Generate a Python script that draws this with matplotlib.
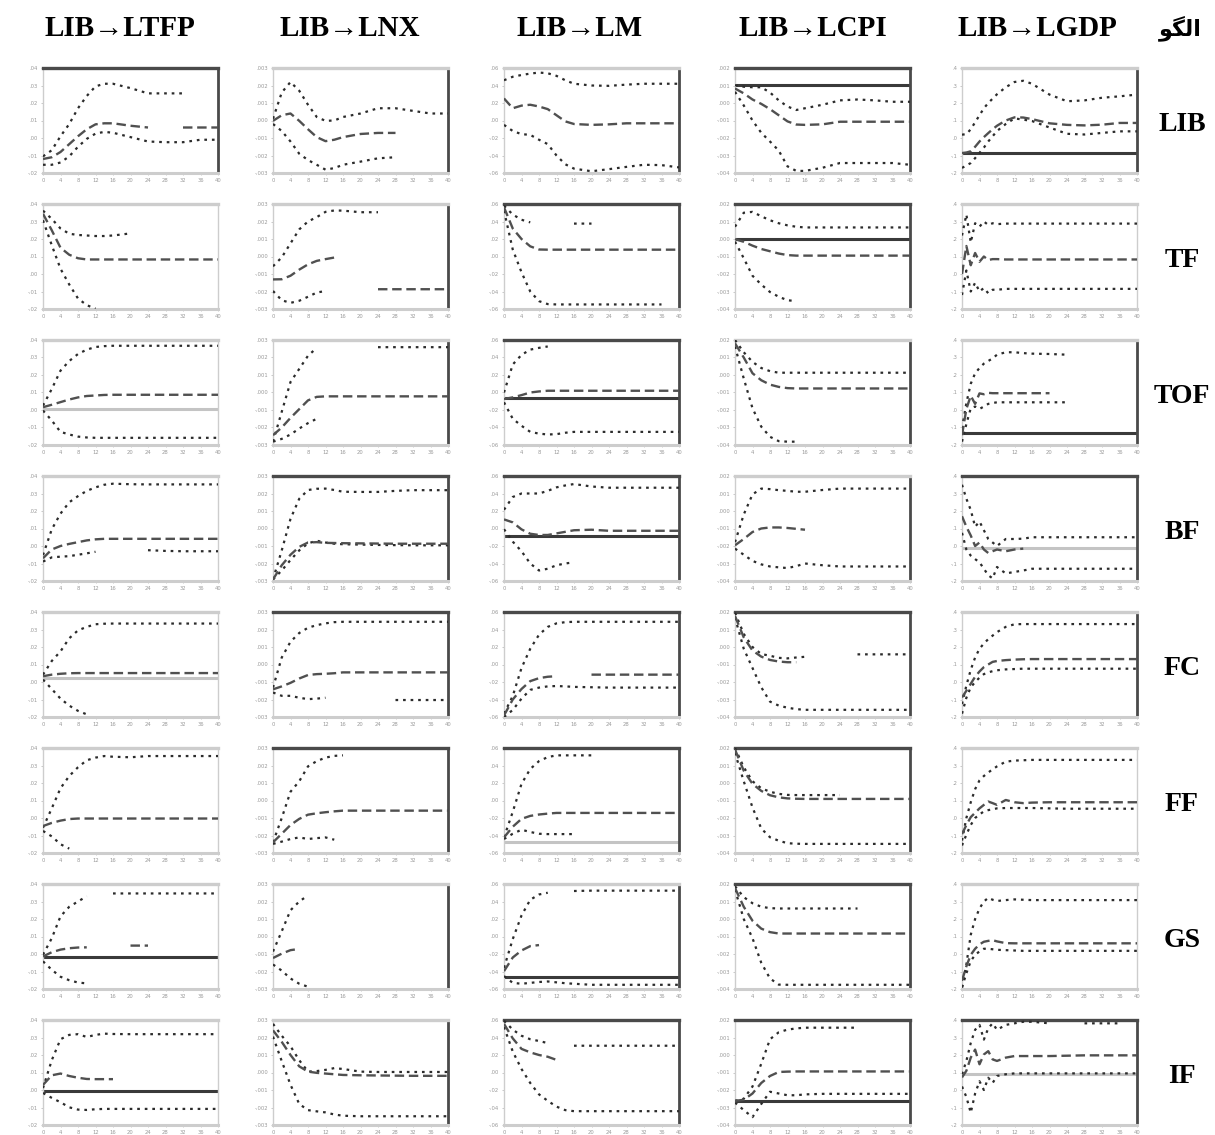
import numpy as np
import matplotlib
matplotlib.use("Agg")
import matplotlib.pyplot as plt

nan = np.nan

rows = ["LIB", "TF", "TOF", "BF", "FC", "FF", "GS", "IF"]
cols = ["LIB→LTFP", "LIB→LNX", "LIB→LM", "LIB→LCPI", "LIB→LGDP"]
corner = "\uFEEE\uFB95\uFEDF\uFE8D"  # الگو (shaped, visual order)

h_smooth = [0, 2, 4, 6, 8, 10, 12, 14, 16, 20, 24, 28, 32, 36, 40]
h_osc = [0, 1, 2, 3, 4, 5, 6, 7, 8, 10, 12, 14, 16, 20, 24, 28, 32, 36, 40]
xticks = [0, 4, 8, 12, 16, 20, 24, 28, 32, 36, 40]
ytick_labels = [
    ["-.02", "-.01", ".00", ".01", ".02", ".03", ".04"],
    ["-.003", "-.002", "-.001", ".000", ".001", ".002", ".003"],
    ["-.06", "-.04", "-.02", ".00", ".02", ".04", ".06"],
    ["-.004", "-.003", "-.002", "-.001", ".000", ".001", ".002"],
    ["-.2", "-.1", ".0", ".1", ".2", ".3", ".4"],
]

# ---------------- LIB ----------------
up_LIB = [
    [0.95, 1.3, 2.1, 2.8, 3.7, 4.4, 4.95, 5.1, 5.1, 4.85, 4.55, 4.55, 4.55, nan, nan],
    [3.1, 4.6, 5.2, 4.7, 3.9, 3.2, 2.98, 3.0, 3.2, 3.4, 3.7, 3.7, 3.55, 3.4, 3.4],
    [5.3, 5.5, 5.6, 5.68, 5.74, 5.7, 5.55, 5.3, 5.1, 5.0, 4.98, 5.05, 5.1, 5.1, 5.1],
    [5.02, 4.93, 4.9, 4.9, 4.6, 4.15, 3.8, 3.6, 3.7, 3.9, 4.15, 4.2, 4.15, 4.07, 4.07],
    [2.19, 2.22, 2.5, 2.9, 3.3, 3.7, 4.0, 4.25, 4.5, 4.9, 5.2, 5.27, 5.1, 4.48, 4.1, 4.15, 4.3, 4.38, 4.48],
]
ce_LIB = [
    [0.8, 0.9, 1.2, 1.65, 2.1, 2.5, 2.78, 2.84, 2.84, 2.7, 2.6, nan, 2.6, 2.6, 2.6],
    [2.98, 3.3, 3.4, 2.98, 2.5, 2.05, 1.82, 1.9, 2.05, 2.23, 2.29, 2.29, nan, nan, nan],
    [4.26, 3.7, 3.85, 3.9, 3.8, 3.65, 3.3, 2.95, 2.8, 2.75, 2.78, 2.84, 2.84, 2.84, 2.84],
    [4.83, 4.55, 4.2, 3.95, 3.65, 3.3, 2.95, 2.77, 2.75, 2.78, 2.93, 2.93, 2.93, 2.93, 2.93],
    [1.14, 1.17, 1.24, 1.5, 1.8, 2.05, 2.28, 2.5, 2.7, 3.0, 3.18, 3.17, 3.08, 2.84, 2.75, 2.72, 2.76, 2.86, 2.86],
]
lo_LIB = [
    [0.47, 0.47, 0.6, 0.95, 1.5, 1.95, 2.25, 2.35, 2.3, 2.05, 1.8, 1.76, 1.76, 1.9, 1.9],
    [2.8, 2.4, 1.8, 1.1, 0.74, 0.47, 0.19, 0.28, 0.47, 0.65, 0.84, 0.9, nan, nan, nan],
    [2.75, 2.4, 2.22, 2.18, 1.9, 1.65, 1.0, 0.5, 0.25, 0.1, 0.22, 0.35, 0.47, 0.45, 0.32],
    [4.64, 3.86, 3.0, 2.3, 1.8, 1.28, 0.38, 0.12, 0.12, 0.3, 0.57, 0.57, 0.57, 0.57, 0.47],
    [0.29, 0.43, 0.57, 0.85, 1.15, 1.45, 1.8, 2.1, 2.4, 2.8, 3.12, 3.05, 2.97, 2.6, 2.24, 2.2, 2.29, 2.38, 2.38],
]
zero_LIB = [nan, nan, nan, 5.02, 1.14]
zdark_LIB = [0, 0, 0, 1, 1]

# ---------------- TF ----------------
up_TF = [
    [5.62, 5.15, 4.6, 4.3, 4.23, 4.2, 4.17, 4.17, 4.2, 4.32, nan, nan, nan, nan, nan],
    [2.44, 2.95, 3.75, 4.55, 5.0, 5.25, 5.55, 5.63, 5.62, 5.53, 5.53, nan, nan, nan, nan],
    [5.9, 5.4, 5.1, 4.95, nan, nan, nan, nan, 4.88, 4.88, nan, nan, nan, nan, nan],
    [4.7, 5.5, 5.55, 5.3, 5.07, 4.9, 4.78, 4.7, 4.66, 4.66, 4.66, 4.66, 4.66, 4.66, 4.66],
    [4.2, 5.4, 3.8, 4.9, 4.7, 5.0, 4.8, 4.9, 4.85, 4.88, 4.88, 4.88, 4.88, 4.88, 4.88, 4.88, 4.88, 4.88, 4.88],
]
ce_TF = [
    [5.44, 4.5, 3.5, 3.1, 2.9, 2.83, 2.83, 2.83, 2.83, 2.83, 2.83, 2.83, 2.83, 2.83, 2.83],
    [1.69, 1.7, 1.9, 2.25, 2.55, 2.75, 2.85, 2.94, nan, nan, 1.13, 1.13, 1.13, 1.13, 1.13],
    [5.81, 4.6, 4.0, 3.58, 3.4, 3.39, 3.39, 3.39, 3.39, 3.39, 3.39, 3.39, 3.39, 3.39, 3.39],
    [3.99, 3.84, 3.62, 3.43, 3.3, 3.17, 3.08, 3.05, 3.05, 3.05, 3.05, 3.05, 3.05, 3.05, 3.05],
    [2.0, 3.6, 2.5, 3.2, 2.7, 3.0, 2.8, 2.85, 2.85, 2.83, 2.83, 2.83, 2.83, 2.83, 2.83, 2.83, 2.83, 2.83, 2.83],
]
lo_TF = [
    [5.07, 3.65, 2.3, 1.4, 0.6, 0.22, 0.02, nan, nan, nan, nan, nan, nan, nan, nan],
    [1.03, 0.5, 0.35, 0.47, 0.7, 0.94, 1.03, nan, nan, nan, nan, nan, nan, nan, nan],
    [5.62, 3.4, 2.1, 1.0, 0.45, 0.28, 0.26, 0.26, 0.26, 0.26, 0.26, 0.26, 0.26, 0.26, nan],
    [3.85, 2.9, 1.9, 1.4, 0.97, 0.7, 0.5, 0.45, nan, nan, nan, nan, nan, nan, nan],
    [0.8, 2.2, 1.0, 1.5, 1.0, 1.2, 0.9, 1.1, 1.1, 1.15, 1.15, 1.15, 1.15, 1.15, 1.15, 1.15, 1.15, 1.15, 1.15],
]
zero_TF = [nan, nan, nan, 3.99, nan]
zdark_TF = [0, 0, 0, 1, 0]

# ---------------- TOF ----------------
up_TOF = [
    [2.25, 3.2, 4.25, 4.8, 5.2, 5.45, 5.6, 5.65, 5.67, 5.67, 5.67, 5.67, 5.67, 5.67, 5.67],
    [0.19, 1.9, 3.6, 4.35, 5.1, 5.55, nan, nan, nan, nan, 5.59, 5.59, 5.59, 5.59, 5.59],
    [3.0, 4.6, 5.15, 5.45, 5.55, 5.63, nan, nan, nan, nan, nan, nan, nan, nan, nan],
    [6.0, 5.3, 4.75, 4.4, 4.22, 4.13, 4.13, 4.13, 4.13, 4.13, 4.13, 4.13, 4.13, 4.13, 4.13],
    [0.94, 2.4, 3.5, 4.1, 4.4, 4.65, 4.8, 4.95, 5.16, 5.3, 5.3, 5.25, 5.22, 5.2, 5.16, nan, nan, nan, nan],
]
ce_TOF = [
    [2.16, 2.3, 2.45, 2.6, 2.72, 2.8, 2.83, 2.86, 2.87, 2.87, 2.87, 2.87, 2.87, 2.87, 2.87],
    [0.56, 1.0, 1.55, 2.05, 2.55, 2.75, 2.78, 2.78, 2.78, 2.78, 2.78, 2.78, 2.78, 2.78, 2.78],
    [2.63, 2.72, 2.85, 3.0, 3.06, 3.1, 3.1, 3.1, 3.1, 3.1, 3.1, 3.1, 3.1, 3.1, 3.1],
    [5.81, 5.0, 4.1, 3.7, 3.45, 3.32, 3.25, 3.23, 3.23, 3.23, 3.23, 3.23, 3.23, 3.23, 3.23],
    [0.56, 2.06, 2.81, 2.35, 2.95, 2.9, 2.98, 2.96, 2.96, 2.96, 2.96, 2.96, 2.96, 2.96, nan, nan, nan, nan, nan],
]
lo_TOF = [
    [1.97, 1.4, 0.75, 0.6, 0.48, 0.43, 0.41, 0.41, 0.41, 0.41, 0.41, 0.41, 0.41, 0.41, 0.41],
    [0.19, 0.35, 0.6, 0.94, 1.25, 1.5, nan, nan, nan, nan, nan, nan, nan, nan, nan],
    [2.44, 1.5, 1.1, 0.75, 0.65, 0.6, 0.62, 0.7, 0.75, 0.75, 0.75, 0.75, 0.75, 0.75, 0.75],
    [5.63, 3.8, 2.1, 1.05, 0.47, 0.22, 0.19, 0.19, nan, nan, nan, nan, nan, nan, nan],
    [0.19, 1.2, 2.1, 2.2, 2.06, 2.2, 2.35, 2.4, 2.44, 2.44, 2.44, 2.44, 2.44, 2.44, 2.44, nan, nan, nan, nan],
]
zero_TOF = [2.06, nan, 2.66, nan, 0.71]
zdark_TOF = [0, 0, 1, 0, 1]

# ---------------- BF ----------------
up_BF = [
    [1.48, 2.95, 3.85, 4.5, 4.85, 5.15, 5.35, 5.5, 5.56, 5.53, 5.52, 5.52, 5.52, 5.52, 5.52],
    [0.09, 1.75, 3.55, 4.7, 5.2, 5.27, 5.28, 5.2, 5.1, 5.09, 5.09, 5.15, 5.19, 5.19, 5.19],
    [4.07, 4.8, 5.0, 5.0, 5.0, 5.15, 5.35, 5.46, 5.54, 5.4, 5.33, 5.33, 5.33, 5.33, 5.33],
    [2.22, 3.8, 4.95, 5.28, 5.25, 5.19, 5.15, 5.1, 5.1, 5.2, 5.28, 5.28, 5.28, 5.28, 5.28],
    [5.5, 4.7, 4.06, 3.1, 3.4, 2.9, 2.4, 2.2, 2.0, 2.4, 2.4, 2.42, 2.5, 2.5, 2.5, 2.5, 2.5, 2.5, 2.5],
]
ce_BF = [
    [1.3, 1.8, 2.0, 2.12, 2.22, 2.32, 2.38, 2.41, 2.41, 2.41, 2.41, 2.41, 2.41, 2.41, 2.41],
    [0.09, 0.9, 1.5, 1.95, 2.2, 2.22, 2.18, 2.17, 2.16, 2.15, 2.14, 2.13, 2.13, 2.13, 2.13],
    [3.52, 3.35, 2.95, 2.7, 2.63, 2.63, 2.72, 2.81, 2.9, 2.93, 2.87, 2.87, 2.87, 2.87, 2.87],
    [2.04, 2.4, 2.8, 3.0, 3.06, 3.06, 3.03, 2.98, 2.93, nan, nan, nan, nan, nan, nan],
    [3.7, 3.1, 2.6, 2.0, 2.2, 1.8, 1.6, 1.7, 1.8, 1.7, 1.8, 1.85, nan, nan, nan, nan, nan, nan, nan],
]
lo_BF = [
    [1.11, 1.35, 1.39, 1.42, 1.5, 1.58, 1.67, nan, nan, nan, 1.76, 1.72, 1.7, 1.7, 1.7],
    [0.09, 0.6, 1.2, 1.75, 2.15, 2.3, 2.2, 2.13, 2.1, 2.08, 2.06, 2.05, 2.04, 2.04, 2.04],
    [2.96, 2.25, 1.7, 1.0, 0.6, 0.7, 0.9, 1.0, 1.07, nan, nan, nan, nan, nan, nan],
    [1.85, 1.5, 1.15, 0.95, 0.83, 0.78, 0.74, 0.85, 1.0, 0.9, 0.83, 0.83, 0.83, 0.83, 0.83],
    [2.75, 1.8, 1.45, 1.25, 1.07, 0.7, 0.33, 0.15, 0.8, 0.43, 0.52, 0.6, 0.7, 0.7, 0.7, 0.7, 0.7, 0.7, 0.7],
]
zero_BF = [nan, nan, 2.59, nan, 1.91]
zdark_BF = [0, 0, 1, 0, 0]

# ---------------- FC ----------------
up_FC = [
    [2.42, 3.2, 3.75, 4.5, 4.95, 5.15, 5.3, 5.33, 5.34, 5.34, 5.34, 5.34, 5.34, 5.34, 5.34],
    [1.68, 3.4, 4.3, 4.8, 5.1, 5.25, 5.35, 5.42, 5.44, 5.44, 5.44, 5.44, 5.44, 5.44, 5.44],
    [0.19, 1.2, 2.8, 3.9, 4.7, 5.15, 5.35, 5.42, 5.44, 5.44, 5.44, 5.44, 5.44, 5.44, 5.44],
    [5.96, 4.75, 4.0, 3.6, 3.5, 3.38, 3.35, 3.4, 3.44, nan, nan, 3.58, 3.58, 3.58, 3.58],
    [0.74, 1.8, 2.7, 3.4, 3.9, 4.2, 4.45, 4.65, 4.85, 5.15, 5.3, 5.31, 5.31, 5.31, 5.31, 5.31, 5.31, 5.31, 5.31],
]
ce_FC = [
    [2.33, 2.42, 2.47, 2.5, 2.51, 2.51, 2.51, 2.51, 2.51, 2.51, 2.51, 2.51, 2.51, 2.51, 2.51],
    [1.58, 1.75, 1.95, 2.2, 2.4, 2.45, 2.47, 2.5, 2.55, 2.55, 2.55, 2.55, 2.55, 2.55, 2.55],
    [0.09, 1.0, 1.6, 2.05, 2.22, 2.3, 2.33, nan, nan, 2.42, 2.42, 2.42, 2.42, 2.42, 2.42],
    [5.77, 4.55, 3.8, 3.45, 3.26, 3.17, 3.13, 3.13, nan, nan, nan, nan, nan, nan, nan],
    [1.12, 1.5, 1.9, 2.3, 2.6, 2.85, 3.0, 3.15, 3.2, 3.25, 3.28, 3.3, 3.31, 3.31, 3.31, 3.31, 3.31, 3.31, 3.31],
]
lo_FC = [
    [2.14, 1.6, 1.05, 0.65, 0.35, 0.15, nan, nan, nan, nan, nan, nan, nan, nan, nan],
    [1.4, 1.21, 1.21, 1.1, 1.02, 1.05, 1.1, nan, nan, nan, nan, 0.97, 0.97, 0.97, 0.97],
    [0.0, 0.4, 1.05, 1.55, 1.68, 1.75, 1.77, 1.75, 1.72, 1.7, 1.68, 1.68, 1.68, 1.68, 1.68],
    [5.68, 3.9, 2.8, 1.7, 0.88, 0.65, 0.53, 0.45, 0.41, 0.41, 0.41, 0.41, 0.41, 0.41, 0.41],
    [0.19, 1.1, 1.7, 2.0, 2.25, 2.45, 2.55, 2.62, 2.67, 2.72, 2.74, 2.76, 2.76, 2.76, 2.76, 2.76, 2.76, 2.76, 2.76],
]
zero_FC = [2.23, nan, nan, nan, nan]
zdark_FC = [0, 0, 0, 0, 0]

# ---------------- FF ----------------
up_FF = [
    [1.45, 2.55, 3.7, 4.4, 4.9, 5.3, 5.45, 5.54, 5.5, 5.47, 5.54, 5.54, 5.54, 5.54, 5.54],
    [0.61, 2.0, 3.5, 4.1, 4.95, 5.25, 5.45, 5.55, 5.58, nan, nan, nan, nan, nan, nan],
    [0.89, 2.35, 3.95, 4.8, 5.25, 5.48, 5.58, 5.58, 5.58, 5.58, nan, nan, nan, nan, nan],
    [6.0, 4.9, 4.1, 3.7, 3.5, 3.38, 3.32, 3.31, 3.31, 3.31, 3.31, nan, nan, nan, nan],
    [0.71, 2.0, 2.9, 3.65, 4.15, 4.4, 4.6, 4.78, 4.95, 5.22, 5.28, 5.3, 5.32, 5.32, 5.32, 5.32, 5.32, 5.32, 5.32],
]
ce_FF = [
    [1.54, 1.72, 1.85, 1.94, 1.97, 1.97, 1.97, 1.97, 1.97, 1.97, 1.97, 1.97, 1.97, 1.97, 1.97],
    [0.61, 1.1, 1.6, 1.95, 2.19, 2.27, 2.33, 2.38, 2.42, 2.42, 2.42, 2.42, 2.42, 2.42, 2.42],
    [0.89, 1.5, 1.95, 2.12, 2.2, 2.25, 2.29, 2.29, 2.29, 2.29, 2.29, 2.29, 2.29, 2.29, 2.29],
    [5.91, 4.7, 3.95, 3.55, 3.3, 3.18, 3.12, 3.1, 3.09, 3.09, 3.09, 3.09, 3.09, 3.09, 3.09],
    [1.08, 1.6, 2.05, 2.3, 2.55, 2.75, 2.94, 2.85, 2.75, 3.03, 2.9, 2.85, 2.88, 2.9, 2.9, 2.9, 2.9, 2.9, 2.9],
]
lo_FF = [
    [1.26, 0.95, 0.5, 0.25, nan, nan, nan, nan, nan, nan, nan, nan, nan, nan, nan],
    [0.52, 0.65, 0.8, 0.89, 0.8, 0.85, 0.89, 0.76, nan, nan, nan, nan, nan, nan, nan],
    [0.8, 1.1, 1.33, 1.2, 1.1, 1.08, 1.08, 1.08, 1.08, nan, nan, nan, nan, nan, nan],
    [5.72, 4.1, 2.6, 1.4, 0.9, 0.7, 0.56, 0.53, 0.52, 0.52, 0.52, 0.52, 0.52, 0.52, 0.52],
    [0.43, 1.05, 1.6, 2.0, 2.2, 2.38, 2.45, 2.5, 2.55, 2.57, 2.57, 2.57, 2.57, 2.55, 2.53, 2.53, 2.53, 2.53, 2.53],
]
zero_FF = [nan, nan, 0.61, nan, nan]
zdark_FF = [0, 0, 0, 0, 0]

# ---------------- GS ----------------
up_GS = [
    [1.96, 2.9, 4.15, 4.7, 5.0, 5.3, nan, nan, 5.46, 5.46, 5.46, 5.46, 5.46, 5.46, 5.46],
    [2.14, 3.3, 4.5, 5.0, 5.35, nan, nan, nan, nan, nan, nan, nan, nan, nan, nan],
    [1.21, 2.85, 4.2, 5.1, 5.4, 5.5, nan, nan, 5.6, 5.62, 5.62, 5.62, 5.62, 5.62, 5.62],
    [5.87, 5.25, 4.9, 4.7, 4.62, 4.6, 4.6, 4.6, 4.6, 4.6, 4.6, 4.6, nan, nan, nan],
    [0.09, 1.4, 3.1, 4.0, 4.6, 5.0, 5.21, 5.1, 5.03, 5.08, 5.12, 5.1, 5.08, 5.08, 5.08, 5.08, 5.08, 5.08, 5.08],
]
ce_GS = [
    [1.86, 2.1, 2.25, 2.33, 2.37, 2.38, nan, nan, nan, 2.48, 2.48, nan, nan, nan, nan],
    [1.77, 2.02, 2.22, 2.29, nan, nan, nan, nan, nan, nan, nan, nan, nan, nan, nan],
    [1.02, 1.8, 2.2, 2.45, 2.51, nan, nan, nan, nan, nan, nan, nan, nan, nan, nan],
    [5.77, 4.7, 3.9, 3.45, 3.25, 3.17, 3.17, 3.17, 3.17, 3.17, 3.17, 3.17, 3.17, 3.17, 3.17],
    [0.47, 1.3, 1.95, 2.3, 2.55, 2.7, 2.75, 2.79, 2.72, 2.62, 2.61, 2.61, 2.61, 2.61, 2.61, 2.61, 2.61, 2.61, 2.61],
]
lo_GS = [
    [1.58, 1.1, 0.7, 0.5, 0.37, 0.32, nan, nan, nan, nan, nan, nan, nan, nan, nan],
    [1.4, 1.05, 0.6, 0.3, 0.13, nan, nan, nan, nan, nan, nan, nan, nan, nan, nan],
    [0.74, 0.35, 0.3, 0.35, 0.4, 0.43, 0.38, 0.33, 0.3, 0.24, 0.24, 0.24, 0.24, 0.24, 0.24],
    [5.68, 4.0, 2.9, 1.5, 0.6, 0.25, 0.24, 0.24, 0.24, 0.24, 0.24, 0.24, 0.24, 0.24, 0.24],
    [0.09, 0.9, 1.6, 1.95, 2.15, 2.3, 2.3, 2.27, 2.24, 2.22, 2.2, 2.18, 2.18, 2.18, 2.18, 2.18, 2.18, 2.18, 2.18],
]
zero_GS = [1.81, nan, 0.69, nan, nan]
zdark_GS = [1, 0, 1, 0, 0]

# ---------------- IF ----------------
up_IF = [
    [2.11, 3.7, 4.9, 5.15, 5.19, 5.03, 5.15, 5.22, 5.2, 5.19, 5.19, 5.19, 5.19, 5.19, 5.19],
    [5.78, 5.1, 4.5, 3.7, 3.05, 3.08, 3.15, 3.25, 3.2, 3.05, 3.03, 3.03, 3.03, 3.03, 3.03],
    [5.96, 5.45, 5.1, 4.9, 4.8, 4.68, nan, nan, 4.53, 4.53, 4.53, 4.53, 4.53, 4.53, 4.53],
    [1.38, 1.5, 2.2, 3.5, 4.9, 5.3, 5.45, 5.52, 5.56, 5.56, 5.56, 5.56, nan, nan, nan],
    [2.9, 3.66, 4.69, 5.44, 5.72, 4.88, 5.53, 5.81, 5.44, 5.72, 5.81, 5.9, 5.9, 5.81, nan, 5.81, 5.81, 5.81, nan],
]
ce_IF = [
    [2.29, 2.84, 2.94, 2.8, 2.7, 2.63, 2.62, 2.62, 2.62, nan, nan, nan, nan, nan, nan],
    [5.41, 4.75, 4.0, 3.35, 3.05, 2.98, 2.94, 2.9, 2.86, 2.84, 2.83, 2.82, 2.81, 2.81, 2.81],
    [5.78, 4.95, 4.35, 4.15, 4.0, 3.9, 3.72, nan, nan, nan, nan, nan, nan, nan, nan],
    [1.38, 1.44, 1.8, 2.4, 2.8, 3.03, 3.05, 3.06, 3.06, 3.06, 3.06, 3.06, 3.06, 3.06, 3.06],
    [2.72, 3.1, 3.85, 4.31, 3.47, 4.03, 4.22, 3.75, 3.66, 3.85, 3.94, 3.94, 3.94, 3.94, 3.96, 3.98, 3.98, 3.98, 3.98],
]
lo_IF = [
    [1.83, 1.55, 1.3, 1.01, 0.88, 0.86, 0.9, 0.92, 0.92, 0.92, 0.92, 0.92, 0.92, 0.92, 0.92],
    [5.05, 3.65, 2.3, 1.2, 0.85, 0.78, 0.72, 0.6, 0.53, 0.5, 0.5, 0.5, 0.5, 0.5, 0.5],
    [5.6, 4.2, 3.2, 2.4, 1.75, 1.38, 1.05, 0.85, 0.79, 0.79, 0.79, 0.79, 0.79, 0.79, 0.79],
    [1.28, 0.85, 0.45, 1.2, 1.9, 1.8, 1.7, 1.7, 1.75, 1.78, 1.78, 1.78, 1.78, 1.78, 1.78],
    [2.2, 1.6, 0.7, 1.8, 2.5, 2.0, 2.7, 2.4, 2.8, 2.9, 2.95, 2.95, 2.95, 2.95, 2.95, 2.95, 2.95, 2.95, 2.95],
]
zero_IF = [1.93, nan, nan, 1.38, 2.94]
zdark_IF = [1, 0, 0, 1, 0]

# frame styles (1 = dark heavy edge, 0 = light edge)
top_dark = [
    [1, 0, 0, 1, 0], [0, 0, 1, 1, 0], [0, 0, 1, 0, 0], [0, 1, 1, 0, 1],
    [0, 1, 1, 1, 0], [0, 1, 1, 1, 0], [0, 0, 0, 1, 0], [0, 0, 1, 1, 1],
]
right_dark = [
    [1, 1, 1, 1, 1], [0, 1, 1, 1, 0], [0, 1, 1, 1, 1], [0, 1, 1, 1, 1],
    [0, 1, 1, 1, 1], [0, 1, 1, 1, 0], [0, 1, 1, 1, 0], [0, 1, 1, 1, 1],
]

UP = [up_LIB, up_TF, up_TOF, up_BF, up_FC, up_FF, up_GS, up_IF]
CE = [ce_LIB, ce_TF, ce_TOF, ce_BF, ce_FC, ce_FF, ce_GS, ce_IF]
LO = [lo_LIB, lo_TF, lo_TOF, lo_BF, lo_FC, lo_FF, lo_GS, lo_IF]
ZERO = [zero_LIB, zero_TF, zero_TOF, zero_BF, zero_FC, zero_FF, zero_GS, zero_IF]
ZDARK = [zdark_LIB, zdark_TF, zdark_TOF, zdark_BF, zdark_FC, zdark_FF, zdark_GS, zdark_IF]

# ---------------- layout ----------------
W, H = 1215, 1135
col_left = [43, 273, 504, 735, 962]
panel_w, panel_h = 175, 105
row_top0, row_step = 68, 136
col_title_x = [120, 350, 580, 813, 1037]
corner_x = 1180
row_label_x = 1182

fig = plt.figure(figsize=(W / 100, H / 100), dpi=100)
fig.patch.set_facecolor("white")

serif = ["Liberation Serif", "DejaVu Serif"]
DARK = "#4a4a4a"
LIGHT = "#cdcdcd"

for r in range(8):
    top = row_top0 + r * row_step
    for c in range(5):
        L = col_left[c]
        ax = fig.add_axes([L / W, 1 - (top + panel_h) / H, panel_w / W, panel_h / H])
        x = h_osc if c == 4 else h_smooth
        z = ZERO[r][c]
        if not np.isnan(z):
            ax.axhline(z, color="#3a3a3a" if ZDARK[r][c] else "#c4c4c4", lw=2.2, zorder=1)
        ax.plot(x, UP[r][c], ls=(0, (1.2, 2.2)), lw=1.6, color="#2b2b2b", zorder=3)
        ax.plot(x, LO[r][c], ls=(0, (1.2, 2.2)), lw=1.6, color="#2b2b2b", zorder=3)
        ax.plot(x, CE[r][c], ls=(0, (4, 2)), lw=1.7, color="#505050", zorder=3)
        ax.set_xlim(0, 40)
        ax.set_ylim(0, 6)
        ax.set_xticks(xticks)
        ax.set_xticklabels([str(t) for t in xticks])
        ax.set_yticks(range(7))
        ax.set_yticklabels(ytick_labels[c])
        ax.tick_params(axis="both", labelsize=3.8, labelcolor="#9a9a9a",
                       length=1.5, width=0.6, color="#c0c0c0", pad=2)
        for s in ("left", "bottom"):
            ax.spines[s].set_color(LIGHT)
        ax.spines["left"].set_linewidth(1.0)
        ax.spines["bottom"].set_linewidth(2.2)
        ax.spines["top"].set_color(DARK if top_dark[r][c] else LIGHT)
        ax.spines["top"].set_linewidth(2.4)
        ax.spines["right"].set_color(DARK if right_dark[r][c] else LIGHT)
        ax.spines["right"].set_linewidth(2.0 if right_dark[r][c] else 1.0)

    fig.text(row_label_x / W, 1 - (top + panel_h / 2 + 4) / H, rows[r],
             family=serif, fontweight="bold", fontsize=20,
             ha="center", va="center")

for c in range(5):
    fig.text(col_title_x[c] / W, 1 - 28 / H, cols[c], family=serif,
             fontweight="bold", fontsize=21, ha="center", va="center")
fig.text(corner_x / W, 1 - 28 / H, corner, family=["DejaVu Sans"],
         fontweight="bold", fontsize=16, ha="center", va="center")

fig.savefig("out.png", dpi=100, facecolor="white")
